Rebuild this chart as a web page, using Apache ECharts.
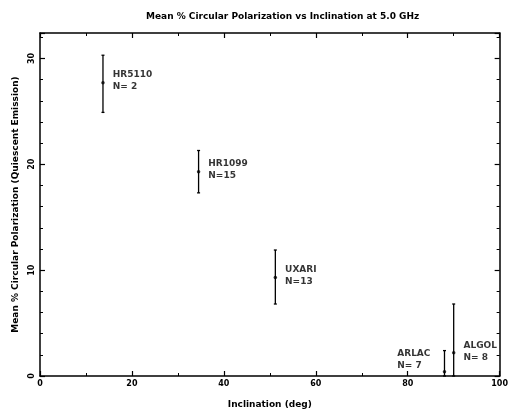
<!DOCTYPE html>
<html>
<head>
<meta charset="utf-8">
<script src="https://cdn.jsdelivr.net/npm/echarts@6/dist/echarts.min.js"></script>
<style>
  html, body { margin: 0; padding: 0; background: #fff; }
  #chart { width: 511px; height: 414px; }
</style>
</head>
<body>
<div id="chart"></div>
<script>
// star systems
const starNames = ["HR5110", "HR1099", "UXARI", "ARLAC", "ALGOL"];
const nObs = [2, 15, 13, 7, 8];
const inclination = [13.7, 34.5, 51.2, 88.0, 90.0];
const meanPol = [27.7, 19.3, 9.3, 0.4, 2.2];
const lowPol = [24.9, 17.3, 6.8, 0, 0];
const highPol = [30.3, 21.3, 11.9, 2.4, 6.8];

const xTicks = [0, 20, 40, 60, 80, 100];
const yTicks = [0, 10, 20, 30];

const font = "DejaVu Sans";
const ink = "#000";

const chart = echarts.init(document.getElementById("chart"));

const errData = inclination.map((x, i) => [x, lowPol[i], highPol[i]]);
const ptData = inclination.map((x, i) => ({
  value: [x, meanPol[i]],
  name: starNames[i],
  n: nObs[i],
  // ARLAC label sits on the left of its bar
  label: starNames[i] === "ARLAC"
    ? { offset: [-54, -12] }
    : { offset: [3, starNames[i] === "ALGOL" ? -1 : -2] }
}));

const tickStyle = { show: true, inside: true, length: 5, lineStyle: { color: ink, width: 1.2 } };
const minorStyle = { show: true, length: 3, lineStyle: { color: ink, width: 1 } };
const lineStyle = { onZero: false, lineStyle: { color: ink, width: 1.5 } };
const txt = { fontFamily: font, fontSize: 9, fontWeight: "bold", color: ink };

const option = {
  backgroundColor: "#fff",
  animation: false,
  title: {
    text: "Mean % Circular Polarization vs Inclination at 5.0 GHz",
    left: 141,
    top: 7,
    textStyle: txt
  },
  grid: { left: 40, right: 6, top: 33, bottom: 38 },
  xAxis: [
    {
      type: "value", min: xTicks[0], max: xTicks[xTicks.length - 1], interval: 20,
      name: "Inclination (deg)", nameLocation: "middle", nameGap: 24,
      nameTextStyle: txt,
      axisLine: lineStyle,
      axisTick: tickStyle,
      minorTick: Object.assign({ splitNumber: 2 }, minorStyle),
      splitLine: { show: false },
      axisLabel: Object.assign({ margin: 4 }, txt, { fontSize: 8 })
    },
    {
      type: "value", position: "top", min: xTicks[0], max: xTicks[xTicks.length - 1], interval: 20,
      axisLine: lineStyle,
      axisTick: tickStyle,
      minorTick: Object.assign({ splitNumber: 2 }, minorStyle),
      splitLine: { show: false },
      axisLabel: { show: false }
    }
  ],
  yAxis: [
    {
      type: "value", min: yTicks[0], max: 32.4, interval: 10,
      name: "Mean % Circular Polarization (Quiescent Emission)",
      nameLocation: "middle", nameGap: 20,
      nameTextStyle: txt,
      axisLine: lineStyle,
      axisTick: tickStyle,
      minorTick: Object.assign({ splitNumber: 5 }, minorStyle),
      splitLine: { show: false },
      axisLabel: Object.assign({}, txt, {
        fontSize: 8, rotate: 90, margin: 4, showMaxLabel: false,
        formatter: v => (yTicks.indexOf(v) >= 0 ? String(v) : "")
      })
    },
    {
      type: "value", position: "right", min: yTicks[0], max: 32.4, interval: 10,
      axisLine: lineStyle,
      axisTick: tickStyle,
      minorTick: Object.assign({ splitNumber: 5 }, minorStyle),
      splitLine: { show: false },
      axisLabel: { show: false }
    }
  ],
  series: [
    {
      type: "custom",
      data: errData,
      renderItem: (params, api) => {
        const x = api.value(0);
        const lo = api.coord([x, api.value(1)]);
        const hi = api.coord([x, api.value(2)]);
        const cap = 1.5;
        const st = { stroke: ink, lineWidth: 1.3 };
        return {
          type: "group",
          children: [
            { type: "line", shape: { x1: lo[0], y1: lo[1], x2: hi[0], y2: hi[1] }, style: st },
            { type: "line", shape: { x1: hi[0] - cap, y1: hi[1], x2: hi[0] + cap, y2: hi[1] }, style: st },
            { type: "line", shape: { x1: lo[0] - cap, y1: lo[1], x2: lo[0] + cap, y2: lo[1] }, style: st }
          ]
        };
      },
      z: 3
    },
    {
      type: "scatter",
      data: ptData,
      symbol: "circle",
      symbolSize: 3.5,
      itemStyle: { color: ink },
      label: Object.assign({
        show: true, position: "right", lineHeight: 12, align: "left",
        formatter: p => p.name + "\nN=" + (p.data.n < 10 ? " " : "") + p.data.n
      }, txt),
      z: 4
    }
  ]
};

chart.setOption(option);
</script>
</body>
</html>
